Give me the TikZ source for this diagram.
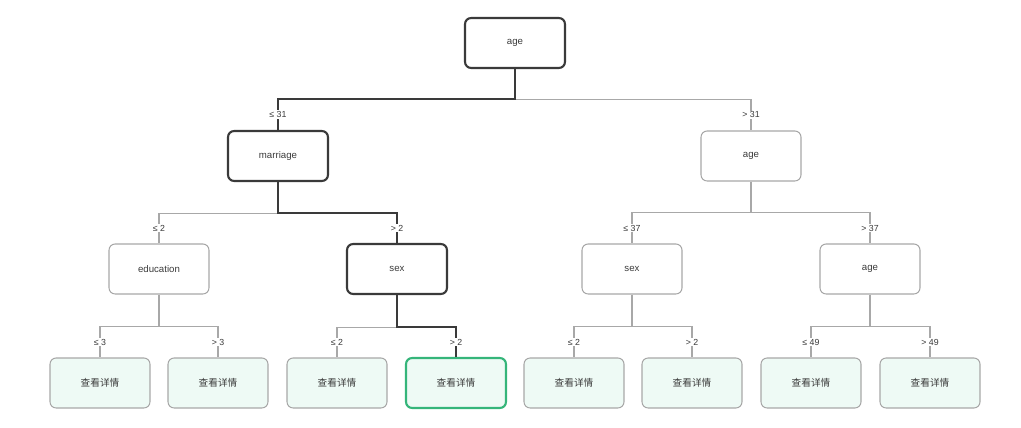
\documentclass[tikz,border=0pt]{standalone}
\usepackage{fontspec}
\setmainfont{Liberation Sans}
\newfontfamily\cjk{Noto Sans CJK SC}
\definecolor{dk}{HTML}{3A3A3A}
\definecolor{lt}{HTML}{A8A8A8}
\definecolor{mint}{HTML}{EEFAF5}
\definecolor{grn}{HTML}{35B57A}
\tikzset{
  nd/.style={draw=lt,rounded corners=3.5pt,minimum width=2cm,minimum height=1cm,inner sep=0pt,font=\fontsize{5.5}{6}\selectfont,text=dk,line width=0.6pt},
  hl/.style={draw=dk,line width=1.2pt},
  lf/.style={nd,fill=mint,font=\fontsize{5.5}{6}\selectfont\cjk},
  ed/.style={draw=lt,line width=0.6pt},
  hed/.style={draw=dk,line width=1.2pt},
  lb/.style={pos=0.75,fill=white,inner sep=0.6pt,font=\fontsize{5}{5}\selectfont,text=dk},
}
\begin{document}
\begin{tikzpicture}[x=0.02cm,y=-0.02cm]
\useasboundingbox (0,0) rectangle (1021,428);
% split nodes
\node[nd,hl] (age) at (515,43) {age};
\node[nd,hl] (mar) at (278,156) {marriage};
\node[nd] (ageR) at (751,156) {age};
\node[nd] (edu) at (159,269) {education};
\node[nd,hl] (sexL) at (397,269) {sex};
\node[nd] (sexR) at (632,269) {sex};
\node[nd] (ageRR) at (870,269) {age};
% leaves
\node[lf] (l1) at (100,383) {查看详情};
\node[lf] (l2) at (218,383) {查看详情};
\node[lf] (l3) at (337,383) {查看详情};
\node[lf,draw=grn,line width=1.2pt] (l4) at (456,383) {查看详情};
\node[lf] (l5) at (574,383) {查看详情};
\node[lf] (l6) at (692,383) {查看详情};
\node[lf] (l7) at (811,383) {查看详情};
\node[lf] (l8) at (930,383) {查看详情};
% light edges
\draw[ed] (age.south) -- ++(0,30) -| node[lb]{> 31} (ageR.north);
\draw[ed] (mar.south) -- ++(0,31) -| node[lb]{≤ 2} (edu.north);
\draw[ed] (ageR.south) -- ++(0,31) -| node[lb]{≤ 37} (sexR.north);
\draw[ed] (ageR.south) -- ++(0,31) -| node[lb]{> 37} (ageRR.north);
\draw[ed] (edu.south) -- ++(0,32) -| node[lb]{≤ 3} (l1.north);
\draw[ed] (edu.south) -- ++(0,32) -| node[lb]{> 3} (l2.north);
\draw[ed] (sexL.south) -- ++(0,32) -| node[lb]{≤ 2} (l3.north);
\draw[ed] (sexR.south) -- ++(0,32) -| node[lb]{≤ 2} (l5.north);
\draw[ed] (sexR.south) -- ++(0,32) -| node[lb]{> 2} (l6.north);
\draw[ed] (ageRR.south) -- ++(0,32) -| node[lb]{≤ 49} (l7.north);
\draw[ed] (ageRR.south) -- ++(0,32) -| node[lb]{> 49} (l8.north);
% path taken
\draw[hed] (age.south) -- ++(0,30) -| node[lb]{≤ 31} (mar.north);
\draw[hed] (mar.south) -- ++(0,31) -| node[lb]{> 2} (sexL.north);
\draw[hed] (sexL.south) -- ++(0,32) -| node[lb]{> 2} (l4.north);
\end{tikzpicture}
\end{document}
